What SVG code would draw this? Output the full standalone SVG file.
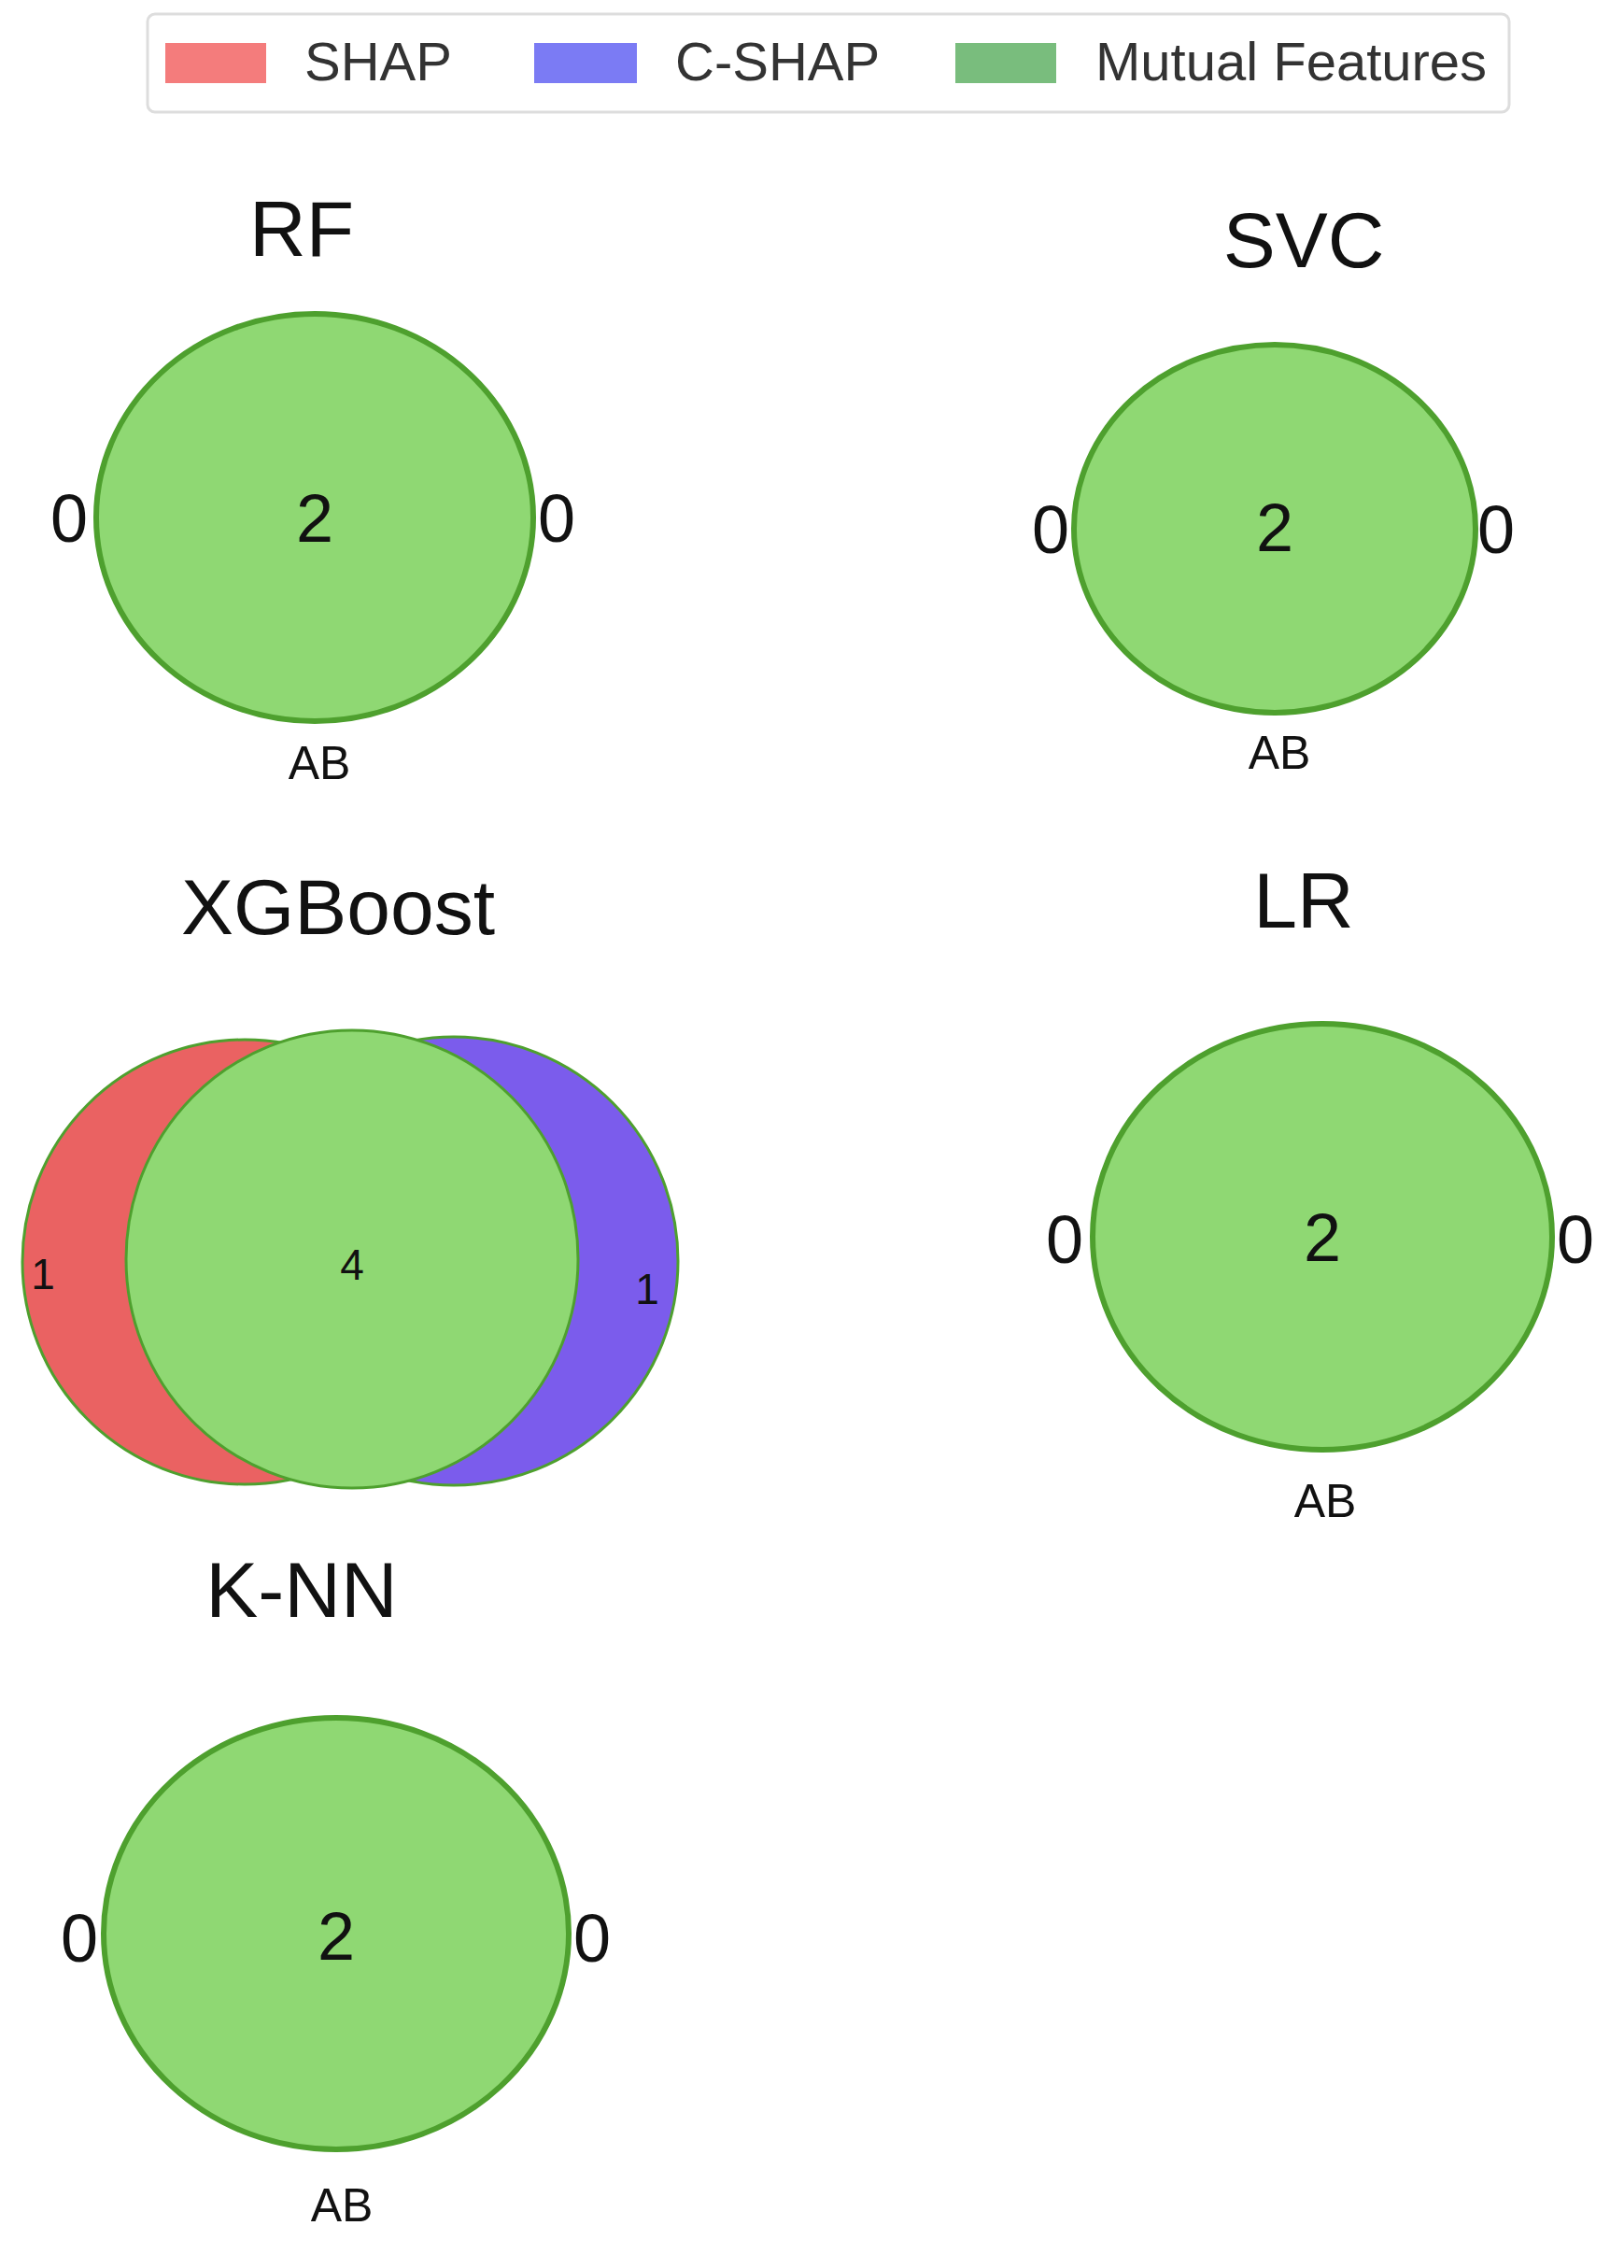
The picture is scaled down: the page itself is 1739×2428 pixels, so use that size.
<svg xmlns="http://www.w3.org/2000/svg" width="1739" height="2428" viewBox="0 0 1739 2428">
<style>
text{font-family:"Liberation Sans",Arial,sans-serif;fill:#111;text-anchor:middle}
.t{font-size:84px}.n{font-size:72px}.ab{font-size:50px}.lg{font-size:58px;text-anchor:start;fill:#333}
.g{fill:#8fd873;stroke:#4ea02e;stroke-width:6}
.s{font-size:46px}
</style>
<rect width="1739" height="2428" fill="#fff"/>
<g id="legend">
<rect x="158" y="15" width="1458" height="105" rx="8" fill="#fff" stroke="#ddd" stroke-width="3"/>
<rect x="177" y="46" width="108" height="43" fill="#f47c7c"/>
<text class="lg" x="326" y="86">SHAP</text>
<rect x="572" y="46" width="110" height="43" fill="#7b7bf4"/>
<text class="lg" x="723" y="86">C-SHAP</text>
<rect x="1023" y="46" width="108" height="43" fill="#79bd7d"/>
<text class="lg" x="1173" y="86">Mutual Features</text>
</g>
<g id="rf">
<text class="t" x="323" y="274">RF</text>
<ellipse class="g" cx="337" cy="554" rx="234" ry="218"/>
<text class="n" x="337" y="580">2</text>
<text class="n" x="74" y="580">0</text>
<text class="n" x="596" y="580">0</text>
<text class="ab" x="342" y="834">AB</text>
</g>
<g id="svc">
<text class="t" x="1396" y="286">SVC</text>
<ellipse class="g" cx="1365" cy="566" rx="215" ry="197"/>
<text class="n" x="1365" y="590">2</text>
<text class="n" x="1125" y="592">0</text>
<text class="n" x="1602" y="592">0</text>
<text class="ab" x="1370" y="823">AB</text>
</g>
<g id="xgboost">
<text class="t" x="362" y="1000">XGBoost</text>
<circle cx="262" cy="1351" r="238" fill="#ea6262" stroke="#4ea02e" stroke-width="3"/>
<circle cx="486" cy="1350" r="240" fill="#7b5cec" stroke="#4ea02e" stroke-width="3"/>
<ellipse cx="377" cy="1348" rx="242" ry="245" fill="#8fd873" stroke="#4ea02e" stroke-width="3"/>
<text class="s" x="46" y="1380">1</text>
<text class="s" x="377" y="1370">4</text>
<text class="s" x="693" y="1396">1</text>
</g>
<g id="lr">
<text class="t" x="1396" y="993">LR</text>
<ellipse class="g" cx="1416" cy="1324" rx="246" ry="228"/>
<text class="n" x="1416" y="1350">2</text>
<text class="n" x="1140" y="1352">0</text>
<text class="n" x="1687" y="1352">0</text>
<text class="ab" x="1419" y="1624">AB</text>
</g>
<g id="knn">
<text class="t" x="323" y="1731">K-NN</text>
<ellipse class="g" cx="360" cy="2070" rx="249" ry="231"/>
<text class="n" x="360" y="2098">2</text>
<text class="n" x="85" y="2100">0</text>
<text class="n" x="634" y="2100">0</text>
<text class="ab" x="366" y="2378">AB</text>
</g>
<g id="connectors"/>
</svg>
